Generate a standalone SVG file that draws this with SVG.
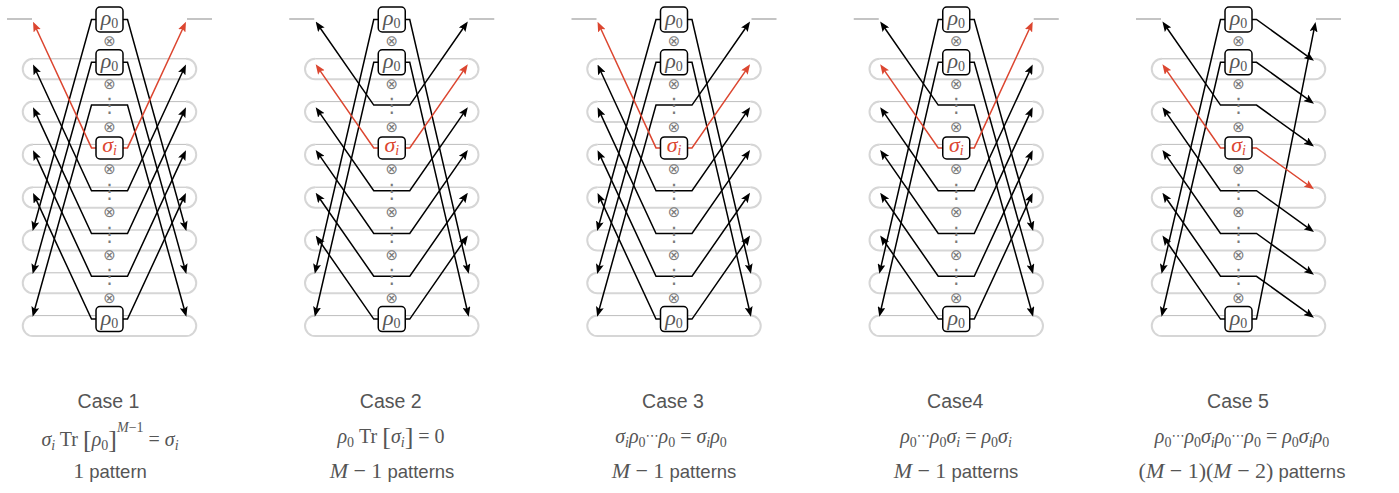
<svg xmlns="http://www.w3.org/2000/svg" xmlns:xlink="http://www.w3.org/1999/xlink" width="1399" height="493" viewBox="0 0 1399 493">
  <style>
    .open { stroke: #c4c4c4; stroke-width: 2; fill: none; }
    .loop { stroke: #d6d6d6; stroke-width: 2; fill: none; }
    .ltop { stroke: #bdbdbd; stroke-width: 1; fill: none; }
    .w { fill: none; stroke: #000; stroke-width: 1.5; marker-end: url(#ah); }
    .r { fill: none; stroke: #dc4630; stroke-width: 1.5; marker-end: url(#ahr); }
    .box { fill: #fff; stroke: #000; stroke-width: 1.5; }
    .rho { font-family: "Liberation Serif", serif; font-style: italic; font-size: 22px; fill: #555; }
    .sig { font-family: "Liberation Serif", serif; font-style: italic; font-size: 22px; fill: #dc4630; }
    .sub { font-size: 14px; }
    .up { font-style: normal; }
    .ot { font-family: "DejaVu Sans", sans-serif; font-size: 15px; fill: #7a7a7a; }
    .vd { font-family: "DejaVu Sans", sans-serif; font-size: 20px; fill: #7a7a7a; }
    .case { font-family: "Liberation Sans", Arial, sans-serif; font-size: 19.5px; fill: #555; }
    .f { font-family: "Liberation Serif", serif; font-size: 20px; fill: #555; }
    .it { font-style: italic; }
    .s14 { font-size: 14px; }
    .cd { font-family: "DejaVu Sans", sans-serif; font-size: 13px; }
    .pat { font-family: "Liberation Sans", Arial, sans-serif; font-size: 18.5px; fill: #555; }
    .num { font-family: "Liberation Serif", serif; font-size: 22px; }
  </style>
  <defs>
    <marker id="ah" markerUnits="userSpaceOnUse" viewBox="0 0 10 8" markerWidth="10" markerHeight="8" refX="7" refY="4" orient="auto">
      <path d="M0,0 L10,4 L0,8 L2,4 z" fill="#000"/>
    </marker>
    <marker id="ahr" markerUnits="userSpaceOnUse" viewBox="0 0 10 8" markerWidth="10" markerHeight="8" refX="7" refY="4" orient="auto">
      <path d="M0,0 L10,4 L0,8 L2,4 z" fill="#dc4630"/>
    </marker>
    <!-- one set of index rails: open output rail on top, seven closed trace loops -->
    <g id="rails">
      <path class="open" d="M7,19H32M187,19H212"/>
      <path class="loop" d="M33,58.8A10.25,10.25 0 0 0 33,79.3H186A10.25,10.25 0 0 0 186,58.8"/>
      <path class="loop" d="M33,101.6A10.25,10.25 0 0 0 33,122.1H186A10.25,10.25 0 0 0 186,101.6"/>
      <path class="loop" d="M33,144.4A10.25,10.25 0 0 0 33,164.9H186A10.25,10.25 0 0 0 186,144.4"/>
      <path class="loop" d="M33,187.2A10.25,10.25 0 0 0 33,207.7H186A10.25,10.25 0 0 0 186,187.2"/>
      <path class="loop" d="M33,230A10.25,10.25 0 0 0 33,250.5H186A10.25,10.25 0 0 0 186,230"/>
      <path class="loop" d="M33,272.8A10.25,10.25 0 0 0 33,293.3H186A10.25,10.25 0 0 0 186,272.8"/>
      <path class="loop" d="M33,315.6A10.25,10.25 0 0 0 33,336.1H186A10.25,10.25 0 0 0 186,315.6"/>
      <path class="ltop" d="M33,58.8H186M33,101.6H186M33,144.4H186M33,187.2H186M33,230H186M33,272.8H186M33,315.6H186"/>
    </g>
    <!-- tensor-product signs and elided factors in the middle column -->
    <g id="column">
      <text class="ot" x="109.5" y="40.9" text-anchor="middle" dominant-baseline="central">⊗</text>
      <text class="ot" x="109.5" y="83.7" text-anchor="middle" dominant-baseline="central">⊗</text>
      <text class="ot" x="109.5" y="126.5" text-anchor="middle" dominant-baseline="central">⊗</text>
      <text class="ot" x="109.5" y="169.3" text-anchor="middle" dominant-baseline="central">⊗</text>
      <text class="ot" x="109.5" y="212.1" text-anchor="middle" dominant-baseline="central">⊗</text>
      <text class="ot" x="109.5" y="254.9" text-anchor="middle" dominant-baseline="central">⊗</text>
      <text class="ot" x="109.5" y="297.7" text-anchor="middle" dominant-baseline="central">⊗</text>
      <text class="vd" x="109.5" y="105.1" text-anchor="middle" dominant-baseline="central">⋮</text>
      <text class="vd" x="109.5" y="190.7" text-anchor="middle" dominant-baseline="central">⋮</text>
      <text class="vd" x="109.5" y="233.5" text-anchor="middle" dominant-baseline="central">⋮</text>
      <text class="vd" x="109.5" y="276.3" text-anchor="middle" dominant-baseline="central">⋮</text>
    </g>
    <!-- left wiring, shift 5 -->
    <g id="L5">
      <path class="w" d="M96,19.5H91.5L33.47,228.2"/>
      <path class="w" d="M96,62.3H91.5L33.47,271"/>
      <path class="w" d="M109.5,105.1H91.5L33.47,313.8"/>
      <path class="w" d="M109.5,190.7H91.5L34.31,67.29"/>
      <path class="w" d="M109.5,233.5H91.5L34.31,110.09"/>
      <path class="w" d="M109.5,276.3H91.5L34.31,152.89"/>
      <path class="w" d="M96,319.1H91.5L34.31,195.69"/>
      <path class="r" d="M96,147.9H91.5L34.31,24.49"/>
    </g>
    <!-- left wiring, shift 6 -->
    <g id="L6">
      <path class="w" d="M96,19.5H91.5L33.24,270.94"/>
      <path class="w" d="M96,62.3H91.5L33.24,313.74"/>
      <path class="w" d="M109.5,105.1H91.5L35.14,24.02"/>
      <path class="w" d="M109.5,190.7H91.5L35.14,109.62"/>
      <path class="w" d="M109.5,233.5H91.5L35.14,152.42"/>
      <path class="w" d="M109.5,276.3H91.5L35.14,195.22"/>
      <path class="w" d="M96,319.1H91.5L35.14,238.02"/>
      <path class="r" d="M96,147.9H91.5L35.14,66.82"/>
    </g>
    <!-- right wiring, shift 5 -->
    <g id="R5">
      <path class="w" d="M123,19.5H127.5L185.53,228.2"/>
      <path class="w" d="M123,62.3H127.5L185.53,271"/>
      <path class="w" d="M109.5,105.1H127.5L185.53,313.8"/>
      <path class="w" d="M109.5,190.7H127.5L184.69,67.29"/>
      <path class="w" d="M109.5,233.5H127.5L184.69,110.09"/>
      <path class="w" d="M109.5,276.3H127.5L184.69,152.89"/>
      <path class="w" d="M123,319.1H127.5L184.69,195.69"/>
      <path class="r" d="M123,147.9H127.5L184.69,24.49"/>
    </g>
    <!-- right wiring, shift 6 -->
    <g id="R6">
      <path class="w" d="M123,19.5H127.5L185.76,270.94"/>
      <path class="w" d="M123,62.3H127.5L185.76,313.74"/>
      <path class="w" d="M109.5,105.1H127.5L183.86,24.02"/>
      <path class="w" d="M109.5,190.7H127.5L183.86,109.62"/>
      <path class="w" d="M109.5,233.5H127.5L183.86,152.42"/>
      <path class="w" d="M109.5,276.3H127.5L183.86,195.22"/>
      <path class="w" d="M123,319.1H127.5L183.86,238.02"/>
      <path class="r" d="M123,147.9H127.5L183.86,66.82"/>
    </g>
    <!-- right wiring, shift 1 -->
    <g id="R1">
      <path class="w" d="M123,19.5H127.5L182.54,59.09"/>
      <path class="w" d="M123,62.3H127.5L182.54,101.89"/>
      <path class="w" d="M109.5,105.1H127.5L182.54,144.69"/>
      <path class="w" d="M109.5,190.7H127.5L182.54,230.29"/>
      <path class="w" d="M109.5,233.5H127.5L182.54,273.09"/>
      <path class="w" d="M109.5,276.3H127.5L182.54,315.89"/>
      <path class="w" d="M123,319.1H127.5L185.93,24.9"/>
      <path class="r" d="M123,147.9H127.5L182.54,187.49"/>
    </g>
  </defs>

  <!-- rails -->
  <g id="rail-sets">
    <use xlink:href="#rails"/>
    <use xlink:href="#rails" x="282.25"/>
    <use xlink:href="#rails" x="564.5"/>
    <use xlink:href="#rails" x="846.75"/>
    <use xlink:href="#rails" x="1129"/>
  </g>

  <!-- wiring of each case -->
  <g id="connectors">
    <g id="wires-1"><use xlink:href="#L5"/><use xlink:href="#R5"/></g>
    <g id="wires-2" transform="translate(282.25,0)"><use xlink:href="#L6"/><use xlink:href="#R6"/></g>
    <g id="wires-3" transform="translate(564.5,0)"><use xlink:href="#L5"/><use xlink:href="#R6"/></g>
    <g id="wires-4" transform="translate(846.75,0)"><use xlink:href="#L6"/><use xlink:href="#R5"/></g>
    <g id="wires-5" transform="translate(1129,0)"><use xlink:href="#L6"/><use xlink:href="#R1"/></g>
  </g>

  <!-- factor boxes -->
  <g id="case1" transform="translate(0,0)">
    <use xlink:href="#column"/>
    <g id="c1-rho-a"><rect class="box" x="96" y="7" width="27" height="25" rx="4"/><text class="rho" x="109.5" y="25" text-anchor="middle">ρ<tspan class="sub up" dy="3">0</tspan></text></g>
    <g id="c1-rho-b"><rect class="box" x="96" y="49.8" width="27" height="25" rx="4"/><text class="rho" x="109.5" y="67.8" text-anchor="middle">ρ<tspan class="sub up" dy="3">0</tspan></text></g>
    <g id="c1-sigma"><rect class="box" x="96" y="136.9" width="27" height="22" rx="4"/><text class="sig" x="109.5" y="152.4" text-anchor="middle">σ<tspan class="sub" dy="3">i</tspan></text></g>
    <g id="c1-rho-c"><rect class="box" x="96" y="306.6" width="27" height="25" rx="4"/><text class="rho" x="109.5" y="324.6" text-anchor="middle">ρ<tspan class="sub up" dy="3">0</tspan></text></g>
  </g>
  <g id="case2" transform="translate(282.25,0)">
    <use xlink:href="#column"/>
    <g id="c2-rho-a"><rect class="box" x="96" y="7" width="27" height="25" rx="4"/><text class="rho" x="109.5" y="25" text-anchor="middle">ρ<tspan class="sub up" dy="3">0</tspan></text></g>
    <g id="c2-rho-b"><rect class="box" x="96" y="49.8" width="27" height="25" rx="4"/><text class="rho" x="109.5" y="67.8" text-anchor="middle">ρ<tspan class="sub up" dy="3">0</tspan></text></g>
    <g id="c2-sigma"><rect class="box" x="96" y="136.9" width="27" height="22" rx="4"/><text class="sig" x="109.5" y="152.4" text-anchor="middle">σ<tspan class="sub" dy="3">i</tspan></text></g>
    <g id="c2-rho-c"><rect class="box" x="96" y="306.6" width="27" height="25" rx="4"/><text class="rho" x="109.5" y="324.6" text-anchor="middle">ρ<tspan class="sub up" dy="3">0</tspan></text></g>
  </g>
  <g id="case3" transform="translate(564.5,0)">
    <use xlink:href="#column"/>
    <g id="c3-rho-a"><rect class="box" x="96" y="7" width="27" height="25" rx="4"/><text class="rho" x="109.5" y="25" text-anchor="middle">ρ<tspan class="sub up" dy="3">0</tspan></text></g>
    <g id="c3-rho-b"><rect class="box" x="96" y="49.8" width="27" height="25" rx="4"/><text class="rho" x="109.5" y="67.8" text-anchor="middle">ρ<tspan class="sub up" dy="3">0</tspan></text></g>
    <g id="c3-sigma"><rect class="box" x="96" y="136.9" width="27" height="22" rx="4"/><text class="sig" x="109.5" y="152.4" text-anchor="middle">σ<tspan class="sub" dy="3">i</tspan></text></g>
    <g id="c3-rho-c"><rect class="box" x="96" y="306.6" width="27" height="25" rx="4"/><text class="rho" x="109.5" y="324.6" text-anchor="middle">ρ<tspan class="sub up" dy="3">0</tspan></text></g>
  </g>
  <g id="case4" transform="translate(846.75,0)">
    <use xlink:href="#column"/>
    <g id="c4-rho-a"><rect class="box" x="96" y="7" width="27" height="25" rx="4"/><text class="rho" x="109.5" y="25" text-anchor="middle">ρ<tspan class="sub up" dy="3">0</tspan></text></g>
    <g id="c4-rho-b"><rect class="box" x="96" y="49.8" width="27" height="25" rx="4"/><text class="rho" x="109.5" y="67.8" text-anchor="middle">ρ<tspan class="sub up" dy="3">0</tspan></text></g>
    <g id="c4-sigma"><rect class="box" x="96" y="136.9" width="27" height="22" rx="4"/><text class="sig" x="109.5" y="152.4" text-anchor="middle">σ<tspan class="sub" dy="3">i</tspan></text></g>
    <g id="c4-rho-c"><rect class="box" x="96" y="306.6" width="27" height="25" rx="4"/><text class="rho" x="109.5" y="324.6" text-anchor="middle">ρ<tspan class="sub up" dy="3">0</tspan></text></g>
  </g>
  <g id="case5" transform="translate(1129,0)">
    <use xlink:href="#column"/>
    <g id="c5-rho-a"><rect class="box" x="96" y="7" width="27" height="25" rx="4"/><text class="rho" x="109.5" y="25" text-anchor="middle">ρ<tspan class="sub up" dy="3">0</tspan></text></g>
    <g id="c5-rho-b"><rect class="box" x="96" y="49.8" width="27" height="25" rx="4"/><text class="rho" x="109.5" y="67.8" text-anchor="middle">ρ<tspan class="sub up" dy="3">0</tspan></text></g>
    <g id="c5-sigma"><rect class="box" x="96" y="136.9" width="27" height="22" rx="4"/><text class="sig" x="109.5" y="152.4" text-anchor="middle">σ<tspan class="sub" dy="3">i</tspan></text></g>
    <g id="c5-rho-c"><rect class="box" x="96" y="306.6" width="27" height="25" rx="4"/><text class="rho" x="109.5" y="324.6" text-anchor="middle">ρ<tspan class="sub up" dy="3">0</tspan></text></g>
  </g>

  <!-- captions -->
  <g id="captions">
    <text class="case" x="108.5" y="408" text-anchor="middle">Case 1</text>
    <text class="case" x="390.75" y="408" text-anchor="middle">Case 2</text>
    <text class="case" x="673" y="408" text-anchor="middle">Case 3</text>
    <text class="case" x="955.25" y="408" text-anchor="middle">Case4</text>
    <text class="case" x="1238" y="408" text-anchor="middle">Case 5</text>

    <text class="f" x="110" y="446" text-anchor="middle"><tspan class="it">σ</tspan><tspan class="s14 it" dy="4">i</tspan><tspan dy="-4"> Tr </tspan><tspan font-size="26" dy="2">[</tspan><tspan class="it" dy="-2">ρ</tspan><tspan class="s14" dy="4">0</tspan><tspan font-size="26" dy="-2">]</tspan><tspan class="s14 it" dy="-16">M</tspan><tspan class="s14">−1</tspan><tspan dy="14"> = </tspan><tspan class="it">σ</tspan><tspan class="s14 it" dy="4">i</tspan></text>
    <text class="f" x="391" y="443" text-anchor="middle"><tspan class="it">ρ</tspan><tspan class="s14" dy="4">0</tspan><tspan dy="-4"> Tr </tspan><tspan font-size="26" dy="2">[</tspan><tspan class="it" dy="-2">σ</tspan><tspan class="s14 it" dy="4">i</tspan><tspan font-size="26" dy="-2">]</tspan><tspan dy="-2"> = 0</tspan></text>
    <text class="f" x="671" y="443" text-anchor="middle"><tspan class="it">σ</tspan><tspan class="s14 it" dy="4">i</tspan><tspan class="it" dy="-4">ρ</tspan><tspan class="s14" dy="4">0</tspan><tspan class="cd" dy="-7">⋯</tspan><tspan class="it" dy="3">ρ</tspan><tspan class="s14" dy="4">0</tspan><tspan dy="-4"> = </tspan><tspan class="it">σ</tspan><tspan class="s14 it" dy="4">i</tspan><tspan class="it" dy="-4">ρ</tspan><tspan class="s14" dy="4">0</tspan></text>
    <text class="f" x="956" y="443" text-anchor="middle"><tspan class="it">ρ</tspan><tspan class="s14" dy="4">0</tspan><tspan class="cd" dy="-7">⋯</tspan><tspan class="it" dy="3">ρ</tspan><tspan class="s14" dy="4">0</tspan><tspan class="it" dy="-4">σ</tspan><tspan class="s14 it" dy="4">i</tspan><tspan dy="-4"> = </tspan><tspan class="it">ρ</tspan><tspan class="s14" dy="4">0</tspan><tspan class="it" dy="-4">σ</tspan><tspan class="s14 it" dy="4">i</tspan></text>
    <text class="f" x="1242" y="443" text-anchor="middle"><tspan class="it">ρ</tspan><tspan class="s14" dy="4">0</tspan><tspan class="cd" dy="-7">⋯</tspan><tspan class="it" dy="3">ρ</tspan><tspan class="s14" dy="4">0</tspan><tspan class="it" dy="-4">σ</tspan><tspan class="s14 it" dy="4">i</tspan><tspan class="it" dy="-4">ρ</tspan><tspan class="s14" dy="4">0</tspan><tspan class="cd" dy="-7">⋯</tspan><tspan class="it" dy="3">ρ</tspan><tspan class="s14" dy="4">0</tspan><tspan dy="-4"> = </tspan><tspan class="it">ρ</tspan><tspan class="s14" dy="4">0</tspan><tspan class="it" dy="-4">σ</tspan><tspan class="s14 it" dy="4">i</tspan><tspan class="it" dy="-4">ρ</tspan><tspan class="s14" dy="4">0</tspan></text>

    <text class="pat" x="110" y="478" text-anchor="middle"><tspan class="num">1</tspan> pattern</text>
    <text class="pat" x="392" y="478" text-anchor="middle"><tspan class="num it">M</tspan><tspan class="num"> − 1</tspan> patterns</text>
    <text class="pat" x="674" y="478" text-anchor="middle"><tspan class="num it">M</tspan><tspan class="num"> − 1</tspan> patterns</text>
    <text class="pat" x="956" y="478" text-anchor="middle"><tspan class="num it">M</tspan><tspan class="num"> − 1</tspan> patterns</text>
    <text class="pat" x="1242" y="478" text-anchor="middle"><tspan class="num">(</tspan><tspan class="num it">M</tspan><tspan class="num"> − 1)(</tspan><tspan class="num it">M</tspan><tspan class="num"> − 2)</tspan> patterns</text>
  </g>
</svg>
